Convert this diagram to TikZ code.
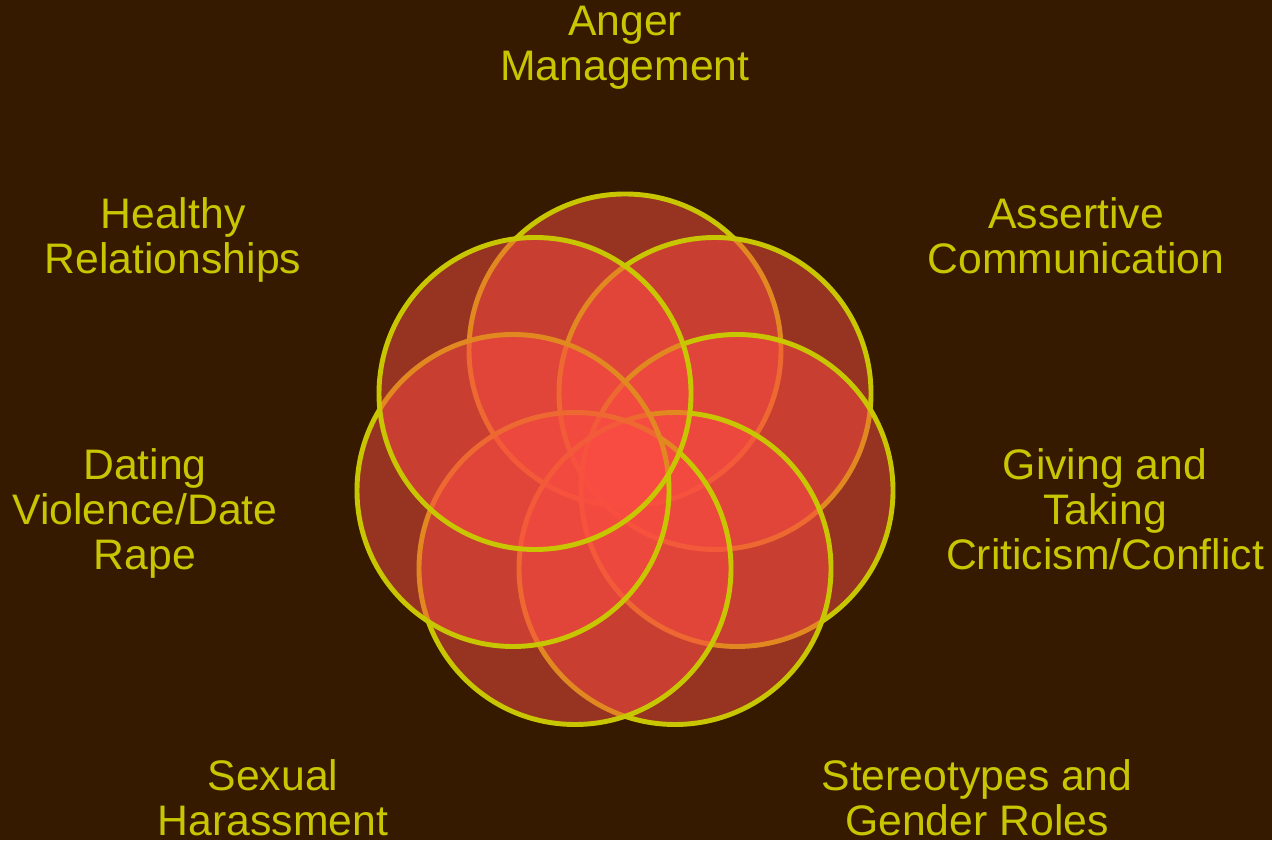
\documentclass[tikz,border=0pt]{standalone}
\usepackage{fontspec}
\setmainfont{Liberation Sans}
\usepackage{tikz}

\definecolor{bgbrown}{RGB}{53,26,0}
\definecolor{rimyellow}{RGB}{200,198,0}
\definecolor{petalred}{RGB}{250,76,66}

\tikzset{
  petal/.style={draw=rimyellow,line width=2.8pt,fill=petalred,fill opacity=0.5},
  topic/.style={text=rimyellow,align=center,anchor=north,inner sep=0pt,
    font=\fontsize{24.3}{25.6}\selectfont}
}

\begin{document}
\begin{tikzpicture}[line cap=round,line join=round,x=1.0cm,y=1.0cm]
        \useasboundingbox (0,0) rectangle (25.44,16.8);
        \clip (0,0) rectangle (25.44,16.8);
        \fill [bgbrown] (0,0) rectangle (25.44,16.8);
        % seven overlapping circles, clockwise from the top
        \draw [petal] (12.5,9.8) circle (3.12);
        \draw [petal] (14.3,8.93) circle (3.12);
        \draw [petal] (14.74,6.99) circle (3.12);
        \draw [petal] (13.5,5.43) circle (3.12);
        \draw [petal] (11.5,5.43) circle (3.12);
        \draw [petal] (10.26,6.99) circle (3.12);
        \draw [petal] (10.7,8.93) circle (3.12);
        % topics
        \draw (12.5,16.68) node[topic] (anger) {Anger\\Management};
        \draw (21.52,12.86) node[topic] (assert) {Assertive\\Communication};
        \draw (22.1,7.84) node[topic] (critic) {Giving and\\Taking\\Criticism/Conflict};
        \draw (19.54,1.62) node[topic] (stereo) {Stereotypes and\\Gender Roles};
        \draw (5.46,1.62) node[topic] (harass) {Sexual\\Harassment};
        \draw (2.9,7.84) node[topic] (dating) {Dating\\Violence/Date\\Rape};
        \draw (3.46,12.86) node[topic] (healthy) {Healthy\\Relationships};
\end{tikzpicture}
\end{document}
